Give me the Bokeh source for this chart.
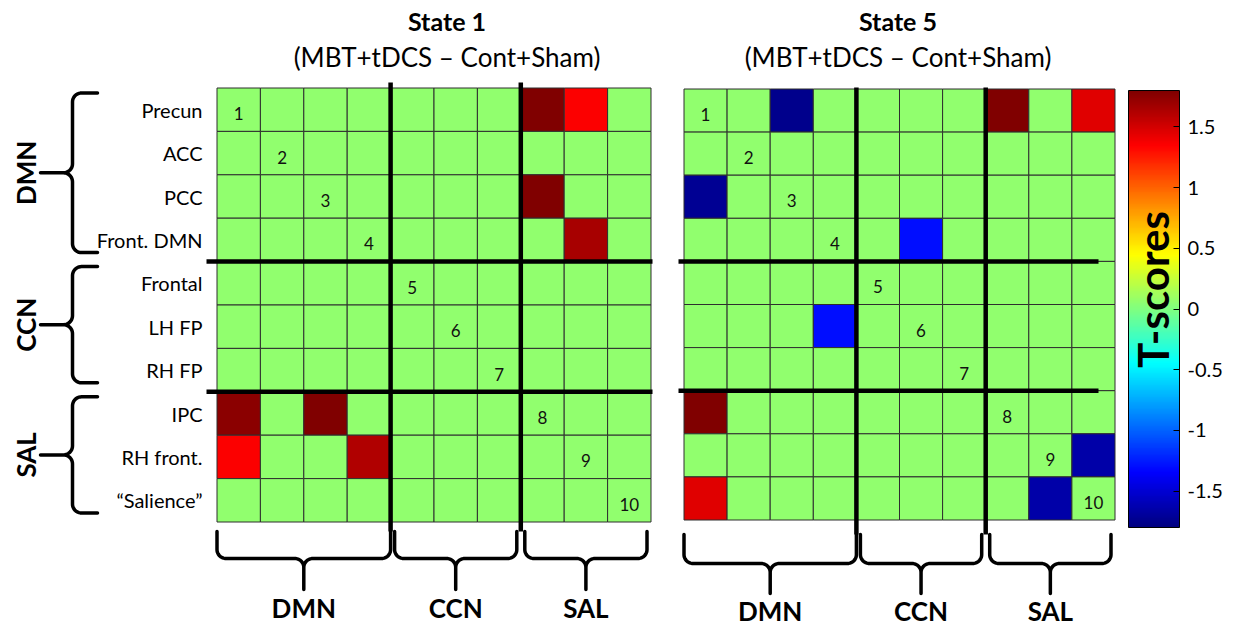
import numpy as np
from bokeh.plotting import figure
from bokeh.models import Range1d, LinearColorMapper, ColorBar, FixedTicker, ColumnDataSource
from bokeh.transform import transform
from bokeh.core.properties import value
from bokeh.embed import file_html
from bokeh.resources import INLINE

# ---------------- data ----------------
rois = ["Precun", "ACC", "PCC", "Front. DMN", "Frontal", "LH FP", "RH FP",
        "IPC", "RH front.", "\u201cSalience\u201d"]
groups = ["DMN", "CCN", "SAL"]
group_sizes = [4, 3, 3]
titles = ["State 1", "State 5"]
subtitle = "(MBT+tDCS \u2013 Cont+Sham)"
cbar_ticks = [-1.5, -1.0, -0.5, 0.0, 0.5, 1.0, 1.5]
cbar_labels = ["-1.5", "-1", "-0.5", "0", "0.5", "1", "1.5"]
cbar_title = "T-scores"
t_low, t_high = -1.8, 1.8

G = 0.07  # non-significant (light green) cells
state1 = [
    [G, G, G, G, G, G, G, 1.80, 1.35, G],
    [G, G, G, G, G, G, G, G, G, G],
    [G, G, G, G, G, G, G, 1.80, G, G],
    [G, G, G, G, G, G, G, G, 1.65, G],
    [G, G, G, G, G, G, G, G, G, G],
    [G, G, G, G, G, G, G, G, G, G],
    [G, G, G, G, G, G, G, G, G, G],
    [1.75, G, 1.80, G, G, G, G, G, G, G],
    [1.35, G, G, 1.62, G, G, G, G, G, G],
    [G, G, G, G, G, G, G, G, G, G],
]
state5 = [
    [G, G, -1.75, G, G, G, G, 1.80, G, 1.45],
    [G, G, G, G, G, G, G, G, G, G],
    [-1.72, G, G, G, G, G, G, G, G, G],
    [G, G, G, G, G, -1.30, G, G, G, G],
    [G, G, G, G, G, G, G, G, G, G],
    [G, G, G, -1.30, G, G, G, G, G, G],
    [G, G, G, G, G, G, G, G, G, G],
    [1.80, G, G, G, G, G, G, G, G, G],
    [G, G, G, G, G, G, G, G, G, -1.65],
    [1.45, G, G, G, G, G, G, G, -1.65, G],
]

# ---------------- style / layout ----------------
FONT = "Lato"
t = np.linspace(0, 1, 256)
def _c(x):
    return np.clip(x, 0, 1)
jet = ["#%02x%02x%02x" % (int(round(255 * _c(1.5 - abs(4 * s - 3)))),
                          int(round(255 * _c(1.5 - abs(4 * s - 2)))),
                          int(round(255 * _c(1.5 - abs(4 * s - 1))))) for s in t]
mapper = LinearColorMapper(palette=jet, low=t_low, high=t_high)

W, H = 1224, 628
p = figure(width=W, height=H, x_range=Range1d(0, W), y_range=Range1d(H, 0),
           output_backend="svg", toolbar_location=None, min_border=0,
           x_axis_type=None, y_axis_type=None, outline_line_color=None)
p.grid.visible = False

panels = [
    dict(mat=state1, title=titles[0], x0=216.5, y0=87.5, cs=43.4, vtop=82, vbot=531,
         hleft=206, hright=652, tx=446.5, bry=531, brs=27, brt=58, bly=607),
    dict(mat=state5, title=titles[1], x0=683.5, y0=88.5, cs=43.1, vtop=87, vbot=534,
         hleft=678, hright=1098, tx=897.5, bry=534, brs=29, brt=59, bly=610),
]

n = len(rois)
bounds = np.cumsum([0] + group_sizes)


def brace_path(a, b, s, tt, r):
    """brace in (u, v) local coords; ends at v=0, spine at v=s, tip at v=tt"""
    m = (a + b) / 2.0
    th = np.linspace(0, np.pi / 2, 12)
    u = [a]; v = [0.0]
    u += list(a + r - r * np.cos(th)); v += list(s - r + r * np.sin(th))
    u += list(m - r + r * np.sin(th)); v += list(s + r - r * np.cos(th))
    u += [m]; v += [tt]
    u = np.array(u); v = np.array(v)
    uu = np.concatenate([u, (a + b - u)[::-1]])
    vv = np.concatenate([v, v[::-1]])
    return uu, vv


for pan in panels:
    mat = np.array(pan["mat"], dtype=float)
    x0, y0, cs = pan["x0"], pan["y0"], pan["cs"]
    rr, cc = np.indices(mat.shape)
    src = ColumnDataSource(dict(x=x0 + (cc.ravel() + 0.5) * cs,
                                y=y0 + (rr.ravel() + 0.5) * cs,
                                v=mat.ravel()))
    p.rect("x", "y", width=cs, height=cs, source=src,
           fill_color=transform("v", mapper), line_color="#2e2e2e", line_width=1)
    # diagonal numbers
    idx = np.arange(n)
    p.text(x=x0 + (idx + 0.5) * cs, y=y0 + (idx + 0.5) * cs + 4,
           text=[str(i + 1) for i in idx], text_font=value(FONT), text_font_size="17px",
           text_align="center", text_baseline="middle", text_color="#111111")
    # thick network separators
    for bnd in bounds[1:-1]:
        xb = x0 + bnd * cs
        p.line([xb, xb], [pan["vtop"], pan["vbot"]], line_color="black", line_width=4.5)
        yb = y0 + bnd * cs
        p.line([pan["hleft"], pan["hright"]], [yb, yb], line_color="black", line_width=4.5)
    # titles
    p.text(x=[pan["tx"]], y=[20], text=[pan["title"]], text_font=value(FONT),
           text_font_style="bold", text_font_size="25px", text_align="center",
           text_baseline="middle", text_color="black")
    p.text(x=[pan["tx"]], y=[56], text=[subtitle], text_font=value(FONT),
           text_font_size="26px", text_align="center", text_baseline="middle",
           text_color="black")
    # bottom braces + group labels
    for gi, gname in enumerate(groups):
        a = x0 + bounds[gi] * cs + (0 if gi == 0 else 4)
        b = x0 + bounds[gi + 1] * cs - (0 if gi == 0 else 4)
        uu, vv = brace_path(a, b, pan["brs"], pan["brt"], 9)
        p.line(uu, pan["bry"] + vv, line_color="black", line_width=3.5,
               line_join="round", line_cap="round")
        p.text(x=[(a + b) / 2], y=[pan["bly"]], text=[gname], text_font=value(FONT),
               text_font_style="bold", text_font_size="26px", text_align="center",
               text_baseline="middle", text_color="black")

# row labels (left panel only)
L = panels[0]
p.text(x=[202] * n, y=list(L["y0"] + (np.arange(n) + 0.5) * L["cs"]), text=rois,
       text_font=value(FONT), text_font_size="20px", text_align="right",
       text_baseline="middle", text_color="black")

# left braces + rotated group labels
for gi, gname in enumerate(groups):
    top = L["y0"] + bounds[gi] * L["cs"] + 5
    bot = L["y0"] + bounds[gi + 1] * L["cs"] - 9
    uu, vv = brace_path(top, bot, 25, 57, 9)
    p.line(97 - vv, uu, line_color="black", line_width=3.5, line_join="round", line_cap="round")
    p.text(x=[25], y=[(top + bot) / 2], text=[gname], text_font=value(FONT),
           text_font_style="bold", text_font_size="26px", text_align="center",
           text_baseline="middle", angle=np.pi / 2, text_color="black")

# colour bar
cb = ColorBar(color_mapper=mapper, location=(1128, 101), width=51, height=437, padding=0,
              ticker=FixedTicker(ticks=cbar_ticks),
              major_label_overrides={tk: lb for tk, lb in zip(cbar_ticks, cbar_labels)},
              major_label_text_font=FONT, major_label_text_font_size="20px",
              major_label_text_color="black", label_standoff=8,
              major_tick_in=6, major_tick_out=0, major_tick_line_color="black",
              bar_line_color="black", bar_line_width=1,
              background_fill_alpha=0, border_line_color=None)
p.add_layout(cb)
p.text(x=[1152], y=[289], text=[cbar_title], text_font=value(FONT), text_font_style="bold",
       text_font_size="42px", text_align="center", text_baseline="middle",
       angle=np.pi / 2, text_color="black", level="overlay")

open("out.html", "w").write(file_html(p, INLINE))
